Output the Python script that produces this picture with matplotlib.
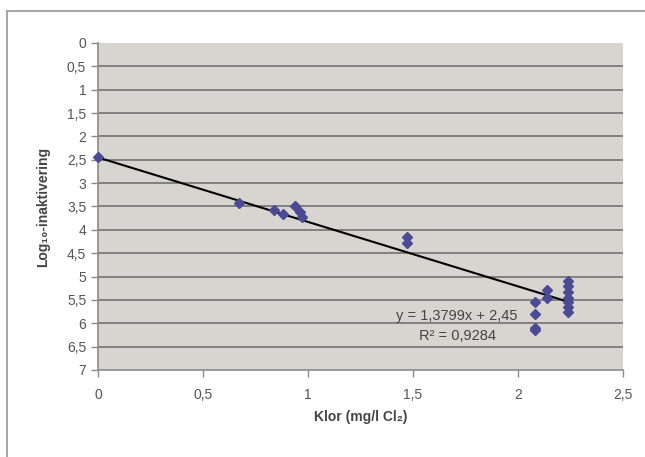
import numpy as np
import matplotlib.pyplot as plt
from matplotlib.ticker import FuncFormatter, MultipleLocator
from matplotlib.patches import Rectangle

plt.rcParams['font.family'] = ['Liberation Sans', 'DejaVu Sans']

# measured chlorine dose and log10 inactivation
klor = [0.0, 0.67, 0.84, 0.88, 0.94, 0.96, 0.97, 1.47, 1.47,
        2.08, 2.08, 2.08, 2.08, 2.14, 2.14,
        2.24, 2.24, 2.24, 2.24, 2.24, 2.24, 2.24]
inakt = [2.45, 3.42, 3.58, 3.65, 3.50, 3.62, 3.72, 4.15, 4.28,
         5.55, 5.80, 6.10, 6.15, 5.28, 5.45,
         5.10, 5.20, 5.32, 5.45, 5.55, 5.65, 5.75]

slope = 1.3799
intercept = 2.45
r2 = 0.9284


def comma(v, pos):
    s = ('%g' % v)
    return s.replace('.', ',')


fig = plt.figure(figsize=(6.45, 4.57), dpi=100)
fig.patch.set_facecolor('white')

# outer chart frame
fig.patches.append(Rectangle((7 / 645, -0.05), 1.1, 1 - 11 / 457 + 0.05,
                             transform=fig.transFigure, fill=False,
                             edgecolor='#a8a8a8', linewidth=1.5))

ax = fig.add_axes([98 / 645, 1 - 370 / 457, 525 / 645, 327 / 457])
ax.set_facecolor('#d8d4cf')

ax.set_xlim(0, 2.5)
ax.set_ylim(7, 0)

ax.yaxis.set_major_locator(MultipleLocator(0.5))
ax.xaxis.set_major_locator(MultipleLocator(0.5))
ax.xaxis.set_major_formatter(FuncFormatter(comma))
ax.yaxis.set_major_formatter(FuncFormatter(comma))

for yv in np.arange(0.5, 7, 0.5):
    ax.axhline(yv, color='#7a7a7a', linewidth=1.3, zorder=1)

for side in ['top', 'right']:
    ax.spines[side].set_visible(False)
ax.spines['left'].set_color('#8a8a8a')
ax.spines['bottom'].set_color('#8a8a8a')
ax.spines['left'].set_linewidth(1.2)
ax.spines['bottom'].set_linewidth(1.2)

ax.tick_params(axis='both', colors='#8a8a8a', labelcolor='#555555',
               labelsize=10, length=5, width=1)
ax.tick_params(axis='x', pad=8)

xs = np.array([0, max(klor)])
ax.plot(xs, slope * xs + intercept, color='black', linewidth=1.5, zorder=3)

ax.plot(klor, inakt, linestyle='none', marker='D', markersize=5,
        color='#4b4b95', zorder=4, clip_on=False)

ax.text(1.71, 5.85, 'y = 1,3799x + 2,45', fontsize=10.5, color='#444444',
        ha='center', va='center', zorder=5)
ax.text(1.71, 6.27, 'R² = 0,9284', fontsize=10.5, color='#444444',
        ha='center', va='center', zorder=5)

ax.set_xlabel('Klor (mg/l Cl₂)', fontsize=10, fontweight='bold',
              color='#444444', labelpad=6)
ax.set_ylabel('Log₁₀-inaktivering', fontsize=10, fontweight='bold',
              color='#444444', labelpad=12)

fig.savefig('out.png', dpi=100)
